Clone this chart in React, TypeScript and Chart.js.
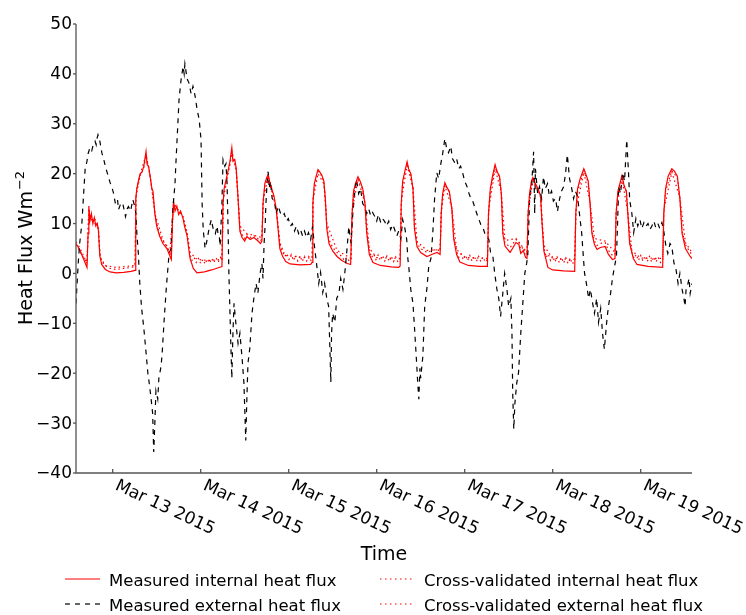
import { useEffect, useRef } from "react";
import { Chart, registerables } from "chart.js";

Chart.register(...registerables);

// x values are hours since 2015-03-12 00:00
const X_MIN = 14;
const X_MAX = 182;
const Y_MIN = -40;
const Y_MAX = 50;

const dayTickHours = [24, 48, 72, 96, 120, 144, 168];
const dayTickLabels = [
  "Mar 13 2015",
  "Mar 14 2015",
  "Mar 15 2015",
  "Mar 16 2015",
  "Mar 17 2015",
  "Mar 18 2015",
  "Mar 19 2015",
];
const yTickValues = [50, 40, 30, 20, 10, 0, -10, -20, -30, -40];

const seriesLabels = [
  "Measured internal heat flux",
  "Measured external heat flux",
  "Cross-validated internal heat flux",
  "Cross-validated external heat flux",
];

// [hour, value]
const measuredInternal = [
  [14.0, 6.0], [15.0, 4.8], [16.0, 3.0], [17.0, 1.2], [17.3, 8], [17.5, 13.5], [17.8, 10.5], [18.2, 12],
  [18.6, 10], [19.0, 11.2], [19.4, 9.5], [19.8, 10], [20.1, 8.8], [20.5, 3.5], [21.0, 1.8], [22.0, 0.8],
  [23.3, 0.3], [25, 0.1], [27, 0.2], [29, 0.4], [30.1, 0.6], [30.3, 15], [30.6, 17], [31.0, 18.5],
  [31.5, 20], [32.0, 20.3], [32.5, 21.5], [33.1, 24.4], [33.4, 21.8], [33.8, 21.5], [34.2, 19.5], [34.7, 17],
  [35.0, 16.5], [35.5, 12], [36.0, 9.5], [36.8, 7.5], [37.7, 6], [38.8, 5], [39.6, 3.5], [40.0, 2.8],
  [40.3, 10], [40.6, 14.5], [41.0, 12.5], [41.5, 13.5], [42.0, 11.8], [42.5, 12.5], [43.0, 11.5], [43.2, 11],
  [43.6, 9.5], [44.3, 7.5], [45.1, 3], [46.0, 1], [47.0, 0.1], [49, 0.3], [51, 0.7], [53, 1.2],
  [53.8, 1.4], [54.1, 14], [54.4, 17], [55, 19], [55.6, 21], [56.0, 22.5], [56.5, 25.2], [56.8, 22.5],
  [57.3, 22.8], [57.7, 21], [58.2, 15], [58.7, 8.5], [59.3, 7.2], [60, 6.5], [60.6, 7.4], [61.5, 6.8],
  [62.5, 7.2], [63.5, 6.6], [64.3, 6.0], [64.7, 6.5], [65.0, 14], [65.5, 18], [66.0, 19.2], [66.4, 19.8],
  [66.8, 18.5], [67.3, 17.2], [68.0, 15.5], [68.6, 13], [69.1, 9], [69.6, 5], [70.3, 3.5], [71.2, 2.4],
  [72.4, 1.9], [75, 1.7], [78.0, 1.8], [78.4, 2.2], [78.6, 14], [79.0, 18], [79.5, 19.5], [80.0, 20.8],
  [80.5, 20.3], [81, 19.8], [81.6, 18.5], [82.0, 15], [82.4, 9], [83.0, 6], [84.0, 4.5], [85.2, 3.4],
  [86.5, 2.6], [88.0, 2.0], [88.9, 1.8], [89.3, 12], [89.7, 16.5], [90.2, 18], [90.9, 19.4], [91.5, 18.5],
  [92.2, 17], [92.8, 14], [93.3, 8], [94.0, 3.8], [95.0, 2.2], [97, 1.6], [100, 1.3], [102.0, 1.2],
  [102.4, 1.5], [102.7, 14], [103.1, 18.5], [103.7, 20.5], [104.3, 22.4], [104.7, 21], [105.3, 20], [105.9, 17],
  [106.3, 9], [107.0, 5.4], [108, 4.2], [109.7, 3.4], [111, 3.8], [112.5, 4.2], [113.3, 3.8], [113.6, 12],
  [114.0, 16], [114.6, 18.2], [115.2, 17.2], [115.8, 16.5], [116.5, 13], [117.0, 7], [117.8, 3.8], [118.7, 2.3],
  [121, 1.6], [124, 1.4], [126.2, 1.4], [126.5, 12], [127.0, 17], [127.6, 19.5], [128.3, 21.8], [128.8, 20.5],
  [129.5, 19.5], [130.0, 16], [130.4, 8], [131, 5.5], [132.4, 4.2], [133.2, 5.2], [134, 6.2], [134.8, 5.8],
  [135.3, 4.0], [136, 4.6], [136.6, 3.2], [137.0, 3.0], [137.3, 12], [137.7, 16], [138.2, 18.5], [138.6, 19.2],
  [139.3, 18], [140, 17], [140.7, 15.5], [141.1, 10], [141.6, 4.5], [142.7, 1.2], [144, 0.7], [147, 0.5],
  [150.0, 0.4], [150.3, 12], [150.8, 17], [151.5, 19], [152.5, 21], [153, 20], [153.7, 18.5], [154.2, 14],
  [154.7, 8], [155.4, 5.8], [156.1, 4.8], [157, 5.2], [158.3, 5.4], [159.2, 3.8], [160.3, 2.8], [161.0, 3.0],
  [161.3, 12], [161.8, 16.5], [162.4, 18.2], [162.9, 19.6], [163.5, 17.5], [164.1, 16.5], [164.5, 12], [165, 6],
  [166, 3], [167.0, 1.8], [170, 1.4], [174.0, 1.2], [174.3, 12], [174.8, 17], [175.5, 19.5], [176.5, 21],
  [177.2, 20.5], [178, 19.5], [178.7, 15], [179.3, 8], [180.2, 5], [181.5, 3.4], [182.0, 3.0],
];

const measuredExternal = [
  [14.0, -6], [14.3, -2], [14.6, 2], [15.0, 6], [15.6, 10], [16.0, 15], [16.5, 21], [17.0, 22.5],
  [17.3, 24], [17.8, 25.2], [18.3, 24.6], [18.6, 25.5], [19.2, 26.5], [19.5, 25.8], [19.7, 27], [20.0, 27.8],
  [20.5, 26.5], [21.1, 24], [21.4, 23.4], [22.0, 21.5], [22.5, 20.2], [23.0, 19], [23.3, 18.2], [23.9, 17],
  [24.2, 16.2], [24.7, 14.2], [25.3, 15], [25.6, 12.8], [26.1, 13.8], [26.7, 14.2], [27.2, 12.5], [27.5, 11.4],
  [28.0, 13], [28.3, 13.4], [28.9, 12.5], [29.5, 14.8], [30.0, 13.5], [30.3, 12.2], [30.6, 8], [31.0, 4],
  [31.4, -2], [31.9, -7], [32.5, -11], [33.0, -15], [33.6, -20], [33.8, -21], [34.4, -24.6], [34.9, -28],
  [35.2, -35.8], [35.5, -30], [35.8, -23.5], [36.3, -25.2], [36.6, -21], [37.2, -18.6], [37.5, -16], [38.0, -9.8],
  [38.6, -3.2], [39.1, 1.4], [39.4, 4], [39.9, 5], [40.4, 12.8], [41.0, 18], [41.2, 21.4], [42.1, 34.8],
  [42.6, 38.5], [43.2, 41.5], [43.5, 40], [43.7, 42], [44.3, 39], [44.8, 38.2], [45.4, 36], [45.9, 37.5],
  [46.5, 35.5], [47.0, 33], [47.6, 30.8], [48.1, 26.8], [48.4, 14], [48.7, 8.8], [49.2, 5], [49.6, 6.2],
  [50.3, 9], [50.9, 10.8], [51.4, 9], [52.0, 8], [52.5, 9.5], [52.8, 7.4], [53.1, 7.2], [53.3, 5.5],
  [53.8, 14], [54.1, 22.8], [54.6, 21.5], [54.9, 22], [55.2, 18], [55.5, 8], [55.7, 0], [56.0, -8],
  [56.3, -16], [56.5, -21], [56.8, -12], [57.1, -6], [57.6, -10], [58.2, -14], [58.7, -12], [59.3, -17],
  [59.8, -22], [60.3, -33.5], [60.6, -25], [60.9, -18], [61.4, -15], [62.0, -8], [62.5, -5], [63.1, -2],
  [63.6, -4], [64.2, 0], [64.7, 2], [65.0, -1], [65.3, 6], [65.6, 10], [65.8, 14], [66.1, 18],
  [66.4, 20.4], [66.7, 17], [67.0, 18.5], [67.5, 15], [68.1, 14.5], [68.6, 12], [69.2, 13.5], [69.7, 12.2],
  [70.3, 11.5], [70.8, 12], [71.4, 10.5], [71.9, 11], [72.5, 9.5], [73.0, 10], [73.6, 8.5], [74.1, 9.5],
  [74.7, 8], [75.2, 8.8], [75.8, 7.5], [76.3, 8.5], [76.9, 7.2], [77.4, 8.2], [78.0, 6.8], [78.5, 9.4],
  [79.1, 5], [79.6, 2], [80.2, -2], [80.7, 0.2], [81.3, -3.8], [81.8, -2], [82.4, -5], [82.9, -6.6],
  [83.2, -14], [83.5, -21.8], [83.7, -12], [84.0, -8], [84.6, -9.8], [85.1, -5], [85.7, -4], [86.2, -1],
  [86.8, -3.2], [87.3, 0], [87.9, 4.8], [88.4, 9.4], [89.0, 6], [89.5, 12], [90.0, 16.2], [90.5, 18.8],
  [91.1, 16], [91.6, 17], [92.2, 14], [92.7, 13.4], [93.3, 12], [93.8, 13], [94.4, 11.5], [94.9, 12.2],
  [95.5, 11.4], [96.0, 10.5], [96.5, 11.8], [97.1, 10.2], [97.6, 11], [98.2, 10.4], [98.7, 9.5], [99.3, 10.5],
  [99.8, 8.8], [100.4, 9.8], [100.9, 8.8], [101.5, 7.5], [102.0, 8.5], [102.6, 7], [103.1, 10.8], [103.7, 9],
  [104.2, 6.8], [104.5, 3], [104.8, 1], [105.3, -3.2], [105.9, -6], [106.4, -11.8], [106.9, -18], [107.2, -22],
  [107.5, -25.2], [107.8, -19], [108.0, -21], [108.6, -16.6], [109.1, -6.6], [109.7, -3], [110.2, 1.4], [110.8, 3],
  [111.3, 8], [111.8, 15], [112.4, 20.2], [112.9, 19], [113.5, 22], [114.0, 24], [114.6, 27], [115.1, 25],
  [115.6, 24.2], [116.2, 25.5], [116.7, 23], [117.3, 22.2], [117.8, 23], [118.4, 21], [118.9, 21.5], [119.5, 20],
  [120.0, 18.5], [120.6, 17.5], [121.1, 16.2], [121.7, 15], [122.2, 14.5], [122.7, 13.4], [123.3, 12], [123.8, 11],
  [124.4, 9.8], [124.9, 9.4], [125.5, 8], [126.0, 7.5], [126.6, 6.8], [127.1, 4], [127.7, 3.4], [128.2, 0],
  [128.8, -3.2], [129.3, -5], [129.8, -8.6], [130.4, -4], [130.9, 0], [131.5, -3], [132.0, -6.6], [132.6, -5],
  [132.9, -12], [133.1, -24], [133.4, -31.2], [133.7, -26], [134.2, -22], [134.7, -19.8], [135.3, -12], [135.8, -6.6],
  [136.4, 0], [136.9, 2], [137.2, 3.4], [137.5, 10], [137.7, 14.8], [138.3, 18], [138.8, 24.4], [139.1, 12],
  [139.3, 21], [139.9, 16], [140.4, 17.4], [141.0, 15], [141.5, 19.4], [142.0, 17], [142.6, 18], [143.1, 15.5],
  [143.7, 16.5], [144.2, 14.5], [144.8, 15], [145.3, 12.4], [145.9, 15], [146.4, 16.5], [147.0, 17.4], [147.5, 20],
  [148.0, 23.8], [148.6, 19], [149.1, 17.4], [149.7, 15], [150.2, 16.5], [150.8, 15.4], [151.3, 12], [151.9, 8.2],
  [152.4, 3], [152.7, 0], [153.2, -2], [153.8, -5], [154.3, -3.2], [154.9, -6], [155.4, -8], [156.0, -5],
  [156.5, -9.8], [157.1, -7], [157.6, -12], [158.1, -15.2], [158.7, -10], [159.2, -6.6], [159.8, -4], [160.3, -1],
  [160.9, 1.5], [161.4, 3.4], [161.7, 10], [162.0, 17.4], [162.5, 16], [163.1, 20.2], [163.6, 18.5], [164.2, 26.8],
  [164.7, 20], [165.0, 14.8], [165.6, 12], [166.1, 8.2], [166.7, 11], [167.2, 9.5], [167.8, 10.8], [168.3, 9],
  [168.9, 10.2], [169.4, 9.4], [170.0, 10], [170.5, 8.8], [171.0, 9.4], [171.6, 10.5], [172.1, 9.2], [172.7, 10],
  [173.2, 9], [173.8, 10.2], [174.3, 8.5], [174.9, 5.4], [175.4, 4], [176.0, 6], [176.5, 5.4], [177.1, 2],
  [177.6, 1], [178.2, -2], [178.7, 0], [179.3, -3.2], [179.8, -5], [180.1, -6.6], [180.4, -3], [180.9, -2],
  [181.2, -1], [181.5, -4], [182.0, -2],
];

const crossValidatedInternal = [
  [14, 6.3], [15, 5.2], [16, 3.6], [17, 2.0], [17.3, 8], [17.5, 13], [18, 11], [18.6, 10.5], [19.2, 10.8],
  [19.8, 9.8], [20.1, 8.8], [20.5, 4], [21, 2.4], [22, 1.5], [23.3, 1.0], [25, 0.8], [27, 1.0], [29, 1.2],
  [30.1, 1.4], [30.3, 14.5], [30.6, 17], [31.5, 19.6], [32.5, 21.2], [33.1, 23.5], [33.8, 21.2], [34.7, 17],
  [35.5, 12.5], [36.0, 10], [36.8, 8], [37.7, 6.5], [38.8, 5.5], [39.6, 4], [40.0, 3.4], [40.3, 10],
  [40.6, 14], [41.5, 13], [42.5, 12.2], [43.2, 11.2], [44.3, 8], [45.1, 3.8], [45.6, 2.6], [46.2, 3.2],
  [46.8, 2.2], [47.4, 3.0], [48, 2.0], [48.6, 2.8], [49.2, 1.9], [49.8, 2.9], [50.4, 2.1], [51, 3.0],
  [51.6, 2.2], [52.2, 3.1], [52.8, 2.3], [53.4, 3.2], [53.8, 2.6], [54.1, 13.5], [54.4, 16.5], [55, 18.8],
  [56, 22], [56.5, 24.5], [57.3, 22.3], [57.7, 20.5], [58.2, 15], [58.7, 9], [59.3, 7.8], [60, 7],
  [60.6, 7.8], [61.5, 7.2], [62.5, 7.6], [63.5, 7], [64.3, 6.5], [64.7, 7], [65.0, 13.5], [65.5, 17.5],
  [66.4, 19.5], [67.3, 17], [68.6, 13], [69.1, 9.5], [69.6, 5.8], [70.3, 4.4], [70.9, 3.4], [71.5, 4.0],
  [72.1, 2.8], [72.7, 3.8], [73.3, 2.6], [73.9, 3.6], [74.5, 2.5], [75.1, 3.5], [75.7, 2.4], [76.3, 3.4],
  [76.9, 2.5], [77.5, 3.4], [78.1, 2.6], [78.4, 3.0], [78.6, 14], [79.0, 17.5], [80.0, 20.4], [81, 19.6],
  [81.6, 18.2], [82.0, 15], [82.4, 9.5], [83, 6.8], [84, 5.2], [85.2, 4.2], [86.5, 3.4], [87.2, 2.6],
  [87.8, 3.2], [88.5, 2.5], [89.0, 2.8], [89.3, 12], [89.7, 16], [90.9, 19], [92.2, 16.8], [92.8, 14],
  [93.3, 8.5], [94, 4.6], [94.6, 3.2], [95.2, 3.9], [95.8, 2.8], [96.4, 3.7], [97, 2.6], [97.6, 3.6],
  [98.2, 2.5], [98.8, 3.5], [99.4, 2.4], [100, 3.4], [100.6, 2.4], [101.2, 3.3], [101.8, 2.3], [102.4, 2.8],
  [102.7, 13.5], [103.1, 18], [104.3, 22], [105.3, 19.8], [105.9, 17], [106.3, 9.5], [107, 6], [108, 5],
  [109.7, 4.2], [111, 4.6], [112.5, 4.8], [113.3, 4.4], [113.6, 12], [114, 15.5], [114.6, 17.8], [115.8, 16.3],
  [116.5, 13], [117, 7.5], [117.8, 4.5], [118.4, 3.2], [119, 3.9], [119.6, 2.8], [120.2, 3.7], [120.8, 2.6],
  [121.4, 3.6], [122, 2.5], [122.6, 3.5], [123.2, 2.4], [123.8, 3.4], [124.4, 2.4], [125, 3.3], [125.6, 2.3],
  [126.2, 2.8], [126.5, 12], [127, 16.5], [128.3, 21.4], [129.5, 19.3], [130, 16], [130.4, 8.5], [131, 6.2],
  [132.4, 5.2], [133.2, 6], [134, 6.8], [134.8, 6.4], [135.3, 4.8], [136, 5.3], [136.6, 4.0], [137, 3.8],
  [137.3, 12], [137.7, 15.5], [138.6, 18.8], [140, 16.8], [140.7, 15.3], [141.1, 10.5], [141.6, 5.2], [142.2, 3.2],
  [142.8, 3.9], [143.4, 2.6], [144, 3.5], [144.6, 2.3], [145.2, 3.3], [145.8, 2.2], [146.4, 3.2], [147, 2.1],
  [147.6, 3.1], [148.2, 2.0], [148.8, 3.0], [149.4, 1.9], [150, 2.6], [150.3, 12], [150.8, 16.5], [152.5, 20.6],
  [153.7, 18.2], [154.2, 14], [154.7, 8.5], [155.4, 6.5], [156.1, 5.6], [157, 6], [158.3, 6.2], [159.2, 4.6],
  [160.3, 3.6], [161, 3.8], [161.3, 12], [161.8, 16], [162.9, 19.2], [164.1, 16.3], [164.5, 12], [165, 6.5],
  [165.6, 4.2], [166.2, 3.0], [166.8, 3.8], [167.4, 2.6], [168, 3.6], [168.6, 2.5], [169.2, 3.5], [169.8, 2.4],
  [170.4, 3.4], [171, 2.3], [171.6, 3.3], [172.2, 2.3], [172.8, 3.2], [173.4, 2.2], [174, 2.8], [174.3, 12],
  [174.8, 16.5], [176.5, 20.6], [178, 19.2], [178.7, 15], [179.3, 8.5], [180.2, 5.8], [181.5, 4.2], [182, 3.8],
];

const crossValidatedExternal = [
  [14, 5.8], [16, 3.2], [17, 2.2], [17.4, 11], [18, 11.5], [19, 10.2], [20.1, 9], [20.6, 3.2], [22, 1.6],
  [25, 1.2], [30.1, 1.6], [30.4, 15.5], [31.5, 19.8], [33.1, 23.8], [34.2, 19.8], [35.5, 12], [37.7, 6.8],
  [39.6, 4.2], [40.3, 11], [40.8, 13.8], [43.2, 11.4], [44.3, 8.2], [45.1, 4.2], [47, 2.8], [50, 2.6],
  [53.8, 2.8], [54.2, 15], [56.5, 24], [57.7, 20.8], [58.7, 9.5], [60.6, 8], [64.7, 7.2], [65.1, 15],
  [66.4, 19.2], [68.6, 13.2], [69.6, 6.2], [71, 3.6], [78.4, 3.0], [78.7, 15], [80, 20], [81.6, 18],
  [82.4, 10], [85.2, 4.6], [89, 3.0], [89.4, 13], [90.9, 18.8], [92.8, 14.2], [94, 5], [96, 3.2],
  [102.4, 3.0], [102.8, 15], [104.3, 21.6], [105.9, 17.2], [107, 6.4], [109.7, 4.6], [113.3, 4.8], [113.7, 13],
  [114.6, 17.6], [116.5, 13.2], [117.8, 4.8], [120, 3.2], [126.2, 3.0], [126.6, 13], [128.3, 21], [130, 16.2],
  [131, 6.6], [134, 7], [137, 4.2], [137.4, 13], [138.6, 18.6], [140.7, 15.6], [141.6, 5.6], [144, 3.0],
  [150, 2.8], [150.4, 13], [152.5, 20.3], [154.2, 14.2], [155.4, 7], [158.3, 6.5], [161, 4.2], [161.4, 13],
  [162.9, 19], [164.5, 12.2], [165.6, 4.6], [168, 3.1], [174, 3.0], [174.4, 13], [176.5, 20.3], [178.7, 15.2],
  [180.2, 6.2], [182, 4.2],
];

const FONT = '"DejaVu Sans", "Bitstream Vera Sans", sans-serif';
const AXIS_COLOR = "#555555";

const toPoints = (arr: number[][]) => arr.map(([x, y]) => ({ x, y }));

const axesPlugin = {
  id: "mplAxes",
  afterDraw(chart: any) {
    const { ctx, chartArea: ca, scales } = chart;
    const xs = scales.x;
    const ys = scales.y;
    ctx.save();

    // spines (left & bottom)
    ctx.strokeStyle = AXIS_COLOR;
    ctx.lineWidth = 1.3;
    ctx.setLineDash([]);
    ctx.beginPath();
    ctx.moveTo(ca.left, ca.top);
    ctx.lineTo(ca.left, ca.bottom);
    ctx.lineTo(ca.right, ca.bottom);
    ctx.stroke();

    // y ticks + labels
    ctx.fillStyle = "#000";
    ctx.font = `17px ${FONT}`;
    ctx.textAlign = "right";
    ctx.textBaseline = "middle";
    yTickValues.forEach((v) => {
      const y = ys.getPixelForValue(v);
      ctx.beginPath();
      ctx.moveTo(ca.left - 3, y);
      ctx.lineTo(ca.left, y);
      ctx.stroke();
      const txt = v < 0 ? "\u2212" + Math.abs(v) : String(v);
      ctx.fillText(txt, ca.left - 4, y + 1);
    });

    // x ticks + rotated labels
    dayTickHours.forEach((h, i) => {
      const x = xs.getPixelForValue(h);
      ctx.beginPath();
      ctx.moveTo(x, ca.bottom);
      ctx.lineTo(x, ca.bottom - 4);
      ctx.stroke();
      ctx.save();
      ctx.translate(x + 1.5, ca.bottom + 16);
      ctx.rotate((25 * Math.PI) / 180);
      ctx.textAlign = "left";
      ctx.textBaseline = "alphabetic";
      ctx.font = `17px ${FONT}`;
      ctx.fillText(dayTickLabels[i], 0, 0);
      ctx.restore();
    });

    // x axis title
    ctx.font = `19px ${FONT}`;
    ctx.textAlign = "center";
    ctx.textBaseline = "alphabetic";
    ctx.fillText("Time", (ca.left + ca.right) / 2, 560);

    // y axis title with superscript
    ctx.save();
    const main = "Heat Flux Wm";
    const sup = "\u22122";
    ctx.font = `19px ${FONT}`;
    const w1 = ctx.measureText(main).width;
    ctx.font = `13px ${FONT}`;
    const w2 = ctx.measureText(sup).width;
    const total = w1 + w2;
    ctx.translate(32, (ca.top + ca.bottom) / 2);
    ctx.rotate(-Math.PI / 2);
    ctx.textAlign = "left";
    ctx.font = `19px ${FONT}`;
    ctx.fillText(main, -total / 2, 0);
    ctx.font = `13px ${FONT}`;
    ctx.fillText(sup, -total / 2 + w1 + 1, -8);
    ctx.restore();

    // legend
    const items = [
      { label: seriesLabels[0], color: "#ff0000", dash: [] as number[], lx: 65, y: 579 },
      { label: seriesLabels[1], color: "#000000", dash: [5, 5], lx: 65, y: 604 },
      { label: seriesLabels[2], color: "#ff0000", dash: [1.5, 3.5], lx: 380, y: 579 },
      { label: seriesLabels[3], color: "#ff0000", dash: [1.5, 3.5], lx: 380, y: 604 },
    ];
    items.forEach((it) => {
      ctx.strokeStyle = it.color;
      ctx.lineWidth = 1.2;
      ctx.setLineDash(it.dash);
      ctx.beginPath();
      ctx.moveTo(it.lx, it.y);
      ctx.lineTo(it.lx + 35, it.y);
      ctx.stroke();
      ctx.setLineDash([]);
      ctx.fillStyle = "#000";
      ctx.font = `16.5px ${FONT}`;
      ctx.textAlign = "left";
      ctx.textBaseline = "alphabetic";
      ctx.fillText(it.label, it.lx + 44, it.y + 7);
    });

    ctx.restore();
  },
};

export default function App() {
  const canvasRef = useRef<HTMLCanvasElement | null>(null);

  useEffect(() => {
    document.body.style.margin = "0";
    document.body.style.overflow = "hidden";
    const canvas = canvasRef.current;
    if (!canvas) return;

    const chart = new Chart(canvas, {
      type: "line",
      data: {
        datasets: [
          {
            label: seriesLabels[0],
            data: toPoints(measuredInternal),
            borderColor: "#ff0000",
            borderWidth: 1.2,
            pointRadius: 0,
            fill: false,
            order: 4,
          },
          {
            label: seriesLabels[1],
            data: toPoints(measuredExternal),
            borderColor: "#000000",
            borderWidth: 1.2,
            borderDash: [5, 5],
            pointRadius: 0,
            fill: false,
            order: 3,
          },
          {
            label: seriesLabels[2],
            data: toPoints(crossValidatedInternal),
            borderColor: "#ff0000",
            borderWidth: 1.2,
            borderDash: [1.5, 3],
            pointRadius: 0,
            fill: false,
            order: 2,
          },
          {
            label: seriesLabels[3],
            data: toPoints(crossValidatedExternal),
            borderColor: "#ff0000",
            borderWidth: 1.2,
            borderDash: [1.5, 3],
            pointRadius: 0,
            fill: false,
            order: 1,
          },
        ],
      },
      options: {
        responsive: false,
        animation: false,
        devicePixelRatio: 1,
        layout: { padding: { left: 76, right: 54, top: 24, bottom: 142 } },
        plugins: { legend: { display: false }, tooltip: { enabled: false } },
        elements: { line: { tension: 0 }, point: { radius: 0 } },
        scales: {
          x: { type: "linear", min: X_MIN, max: X_MAX, display: false },
          y: { type: "linear", min: Y_MIN, max: Y_MAX, display: false },
        },
      },
      plugins: [axesPlugin],
    } as any);

    return () => chart.destroy();
  }, []);

  return (
    <div style={{ width: 746, height: 615, background: "#fff" }}>
      <canvas ref={canvasRef} width={746} height={615} style={{ display: "block" }} />
    </div>
  );
}
